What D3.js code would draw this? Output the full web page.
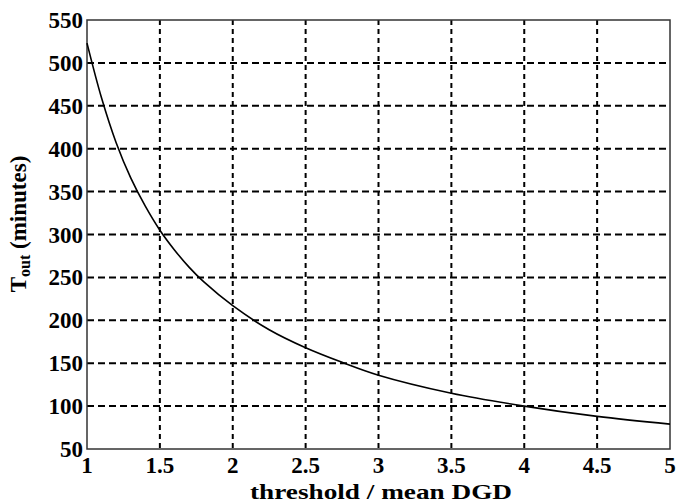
<!DOCTYPE html>
<html>
<head>
<meta charset="utf-8">
<script src="https://cdn.jsdelivr.net/npm/d3@7"></script>
<style>
  body { margin: 0; background: #fff; }
</style>
</head>
<body>
<div id="chart"></div>
<script>
// values
const ratio = [1, 1.1, 1.2, 1.3, 1.4, 1.5, 1.6, 1.7, 1.8, 2, 2.25, 2.5, 2.75, 3, 3.5, 4, 4.5, 5];
const tout  = [523, 459, 407, 366, 333, 305, 282, 262, 245, 217, 189, 168, 151, 136, 115, 100, 88, 79];
const xTicks = [1, 1.5, 2, 2.5, 3, 3.5, 4, 4.5, 5];
const yTicks = [50, 100, 150, 200, 250, 300, 350, 400, 450, 500, 550];

const W = 678, H = 504;
const m = { left: 87, right: 8, top: 20, bottom: 55 };

const svg = d3.select("#chart").append("svg")
  .attr("width", W)
  .attr("height", H)
  .style("font-family", '"Liberation Serif", serif')
  .style("font-weight", "bold");

const x = d3.scaleLinear().domain([1, 5]).range([m.left, W - m.right]);
const y = d3.scaleLinear().domain([50, 550]).range([H - m.bottom, m.top]);

// grid
svg.append("g")
  .selectAll("line")
  .data(xTicks.slice(1, -1))
  .join("line")
  .attr("x1", d => x(d)).attr("x2", d => x(d))
  .attr("y1", y(550)).attr("y2", y(50))
  .attr("stroke", "#000")
  .attr("stroke-width", 2)
  .attr("stroke-dasharray", "5,4");

svg.append("g")
  .selectAll("line")
  .data(yTicks.slice(1, -1))
  .join("line")
  .attr("x1", x(1)).attr("x2", x(5))
  .attr("y1", d => y(d)).attr("y2", d => y(d))
  .attr("stroke", "#000")
  .attr("stroke-width", 2)
  .attr("stroke-dasharray", "7,4");

// frame
svg.append("rect")
  .attr("x", x(1)).attr("y", y(550))
  .attr("width", x(5) - x(1))
  .attr("height", y(50) - y(550))
  .attr("fill", "none")
  .attr("stroke", "#333")
  .attr("stroke-width", 1.5);

// curve
const pts = ratio.map((r, i) => [r, tout[i]]);
svg.append("path")
  .datum(pts)
  .attr("fill", "none")
  .attr("stroke", "#000")
  .attr("stroke-width", 1.6)
  .attr("d", d3.line().x(d => x(d[0])).y(d => y(d[1])).curve(d3.curveCatmullRom));

// tick labels
svg.append("g")
  .selectAll("text")
  .data(yTicks)
  .join("text")
  .attr("x", x(1) - 4)
  .attr("y", d => y(d))
  .attr("dy", "0.35em")
  .attr("text-anchor", "end")
  .attr("font-size", "23px")
  .text(d => d);

svg.append("g")
  .selectAll("text")
  .data(xTicks)
  .join("text")
  .attr("x", d => x(d))
  .attr("y", 473)
  .attr("text-anchor", "middle")
  .attr("font-size", "23px")
  .text(d => d);

// axis titles
svg.append("text")
  .attr("x", 381)
  .attr("y", 499)
  .attr("text-anchor", "middle")
  .attr("font-size", "21px")
  .attr("textLength", 262)
  .attr("lengthAdjust", "spacingAndGlyphs")
  .text("threshold / mean DGD");

const yl = svg.append("text")
  .attr("transform", "translate(26,224) rotate(-90)")
  .attr("text-anchor", "middle")
  .attr("font-size", "23px");
yl.append("tspan").text("T");
yl.append("tspan").attr("font-size", "16px").attr("dy", 4).text("out");
yl.append("tspan").attr("dy", -4).text(" (minutes)");
</script>
</body>
</html>
